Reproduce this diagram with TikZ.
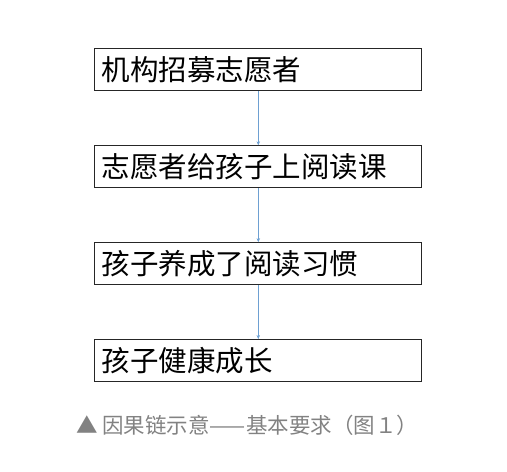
\documentclass[tikz,border=0pt]{standalone}
\usepackage{fontspec}
\setmainfont{Noto Sans CJK SC}
\usetikzlibrary{positioning,arrows.meta}
\definecolor{linkblue}{RGB}{110,160,210}
\definecolor{captiongray}{RGB}{130,130,130}

\begin{document}
\begin{tikzpicture}[x=1pt, y=1pt, node distance=54pt,
                    step node/.style={draw=black!85, line width=0.9pt, minimum height=42pt,
                      text width=313pt, inner xsep=7pt, align=left, font=\fontsize{28.5}{30}\selectfont},
                    link/.style={draw=linkblue, line width=0.6pt, -{Stealth[length=4pt,width=3.5pt]}}]

      \useasboundingbox (0,0) rectangle (507,-472);

      \node[step node] (1) at (258.3,-69.8) {机构招募志愿者};
      \node[step node] (2) [below=of 1] {志愿者给孩子上阅读课};
      \node[step node] (3) [below=of 2] {孩子养成了阅读习惯};
      \node[step node] (4) [below=of 3] {孩子健康成长};

      \draw[link] (1) -- (2);
      \draw[link] (2) -- (3);
      \draw[link] (3) -- (4);

      \node[anchor=west, inner sep=0pt, text=captiongray, font=\fontsize{21.5}{24}\selectfont]
        (caption) at (76,-425) {▲ 因果链示意——基本要求（图１）};

\end{tikzpicture}
\end{document}
